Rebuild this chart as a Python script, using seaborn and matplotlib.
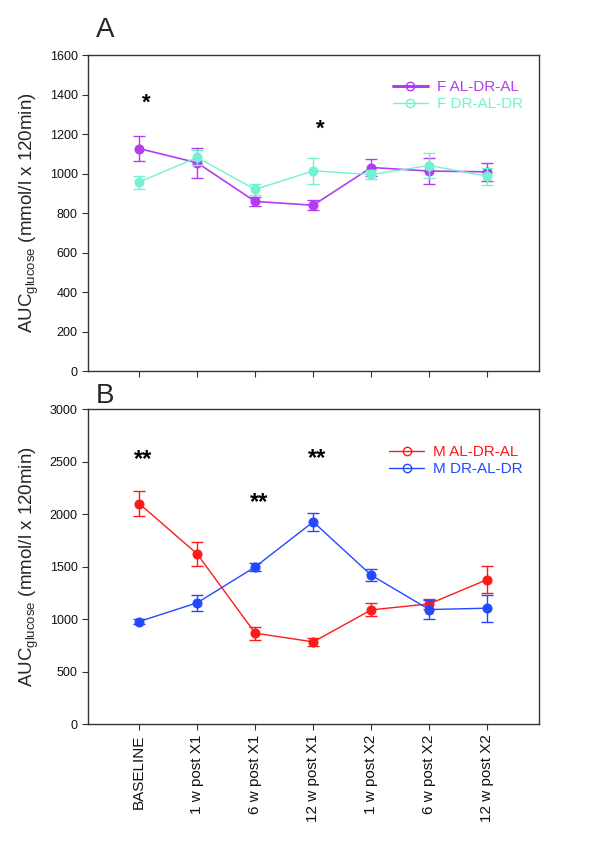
import matplotlib
matplotlib.use("Agg")
import matplotlib.pyplot as plt
from matplotlib.lines import Line2D
import seaborn as sns
import pandas as pd
import numpy as np

categories = ["BASELINE", "1 w post X1", "6 w post X1", "12 w post X1",
              "1 w post X2", "6 w post X2", "12 w post X2"]

# Panel A (females)
f_al_dr_al = [1127, 1055, 859, 840, 1031, 1013, 1009]
f_al_dr_al_err = [65, 76, 22, 25, 45, 65, 47]
f_dr_al_dr = [957, 1082, 920, 1014, 996, 1041, 987]
f_dr_al_dr_err = [33, 38, 29, 65, 22, 65, 43]

# Panel B (males)
m_al_dr_al = [2102, 1622, 867, 784, 1089, 1146, 1378]
m_al_dr_al_err = [120, 117, 63, 35, 63, 50, 124]
m_dr_al_dr = [978, 1156, 1498, 1927, 1419, 1092, 1105]
m_dr_al_dr_err = [25, 78, 41, 83, 57, 92, 129]

# significance marks: (category index, y value, text)
stars_a = [(0, 1355, "*"), (3, 1224, "*")]
stars_b = [(0, 2524, "**"), (2, 2111, "**"), (3, 2530, "**")]

C_PURPLE = "#B43CF0"
C_CYAN = "#72F2D2"
C_RED = "#FF1A1A"
C_BLUE = "#2448FF"

sns.set_theme(style="white")
plt.rcParams["font.family"] = ["Liberation Sans", "DejaVu Sans"]

fig = plt.figure(figsize=(6.0, 8.49), dpi=100)
axA = fig.add_axes([0.1467, 0.563, 0.7516, 0.372])
axB = fig.add_axes([0.1467, 0.147, 0.7516, 0.371])

def draw(ax, series, ylim, yticks, stars, legend_labels, leg_anchor):
    x = np.arange(len(categories))
    handles = []
    for (vals, errs, color, lw, llw), lab in zip(series, legend_labels):
        df = pd.DataFrame({"x": x, "y": vals})
        sns.lineplot(data=df, x="x", y="y", ax=ax, color=color, lw=lw,
                     marker="o", markersize=6.5, markeredgecolor=color,
                     markerfacecolor=color, legend=False)
        ax.errorbar(x, vals, yerr=errs, fmt="none", ecolor=color,
                    elinewidth=1, capsize=4, capthick=1)
        handles.append(Line2D([0], [0], color=color, lw=llw, marker="o",
                              markerfacecolor="none", markeredgecolor=color,
                              markersize=6))
    for xi, yv, t in stars:
        ax.text(xi + (0.12 if t == "*" else 0.07), yv, t, ha="center",
                va="center", fontsize=16 if t == "*" else 17,
                fontweight="bold", color="black")
    ax.set_xlim(-0.88, 6.89)
    ax.set_ylim(*ylim)
    ax.set_yticks(yticks)
    ax.set_xticks(x)
    for s in ax.spines.values():
        s.set_color("#333333")
        s.set_linewidth(1.0)
    ax.tick_params(axis="both", which="both", direction="out", length=4,
                   width=0.8, colors="#333333", labelsize=9,
                   bottom=True, left=True, top=False, right=False)
    ax.tick_params(axis="both", labelcolor="#111111")
    ax.set_xlabel("")
    ax.set_ylabel(r"AUC$_{\mathregular{glucose}}$ (mmol/l x 120min)",
                  fontsize=13.5, labelpad=6)
    leg = ax.legend(handles, legend_labels, loc="upper right",
                    bbox_to_anchor=leg_anchor, frameon=False,
                    fontsize=11, handlelength=2.3, labelspacing=0.2,
                    handletextpad=0.6)
    for txt, s in zip(leg.get_texts(), series):
        txt.set_color(s[2])

draw(axA,
     [(f_al_dr_al, f_al_dr_al_err, C_PURPLE, 1.2, 2.2),
      (f_dr_al_dr, f_dr_al_dr_err, C_CYAN, 1.0, 1.0)],
     (0, 1600), np.arange(0, 1601, 200), stars_a,
     ["F AL-DR-AL", "F DR-AL-DR"], (0.995, 0.965))
axA.set_xticklabels([])

draw(axB,
     [(m_al_dr_al, m_al_dr_al_err, C_RED, 1.0, 1.0),
      (m_dr_al_dr, m_dr_al_dr_err, C_BLUE, 1.0, 1.0)],
     (0, 3000), np.arange(0, 3001, 500), stars_b,
     ["M AL-DR-AL", "M DR-AL-DR"], (0.995, 0.93))
axB.set_xticklabels(categories, rotation=90, fontsize=11)

fig.text(0.175, 0.965, "A", fontsize=20, ha="center", va="center")
fig.text(0.175, 0.534, "B", fontsize=20, ha="center", va="center")

fig.savefig("out.png", dpi=100, facecolor="white")
